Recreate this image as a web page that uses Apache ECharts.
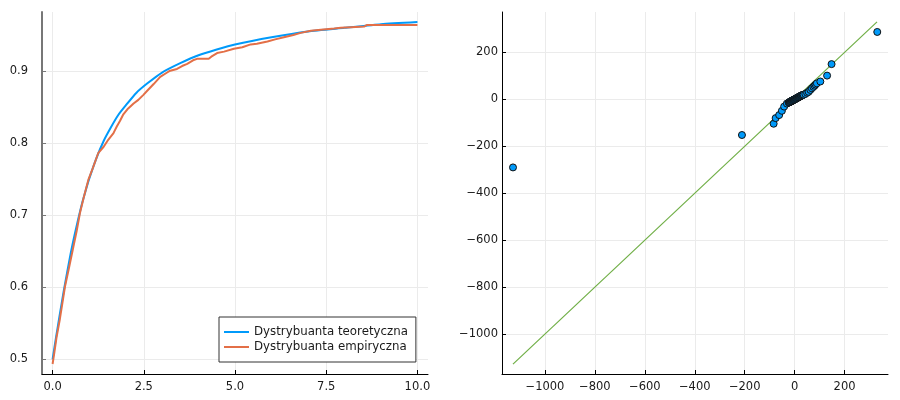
<!DOCTYPE html>
<html>
<head>
<meta charset="utf-8">
<script src="https://cdn.jsdelivr.net/npm/echarts@6/dist/echarts.min.js"></script>
<style>
  html, body { margin: 0; padding: 0; background: #fff; }
  #chart { width: 900px; height: 400px; }
</style>
</head>
<body>
<div id="chart"></div>
<script>
// lewy panel: dystrybuanta teoretyczna
var theoX = [0, 0.1, 0.2, 0.3, 0.4, 0.5, 0.6, 0.7, 0.8, 0.9, 1, 1.2, 1.4, 1.6, 1.8, 2, 2.3, 2.6, 3, 3.5, 4, 4.5, 5, 6, 7, 8, 9, 10];
var theoY = [0.5, 0.532, 0.563, 0.593, 0.621, 0.648, 0.672, 0.694, 0.715, 0.733, 0.75, 0.779, 0.803, 0.822, 0.839, 0.852, 0.870, 0.883, 0.898, 0.911, 0.922, 0.930, 0.937, 0.947, 0.955, 0.960, 0.965, 0.968];

// dystrybuanta empiryczna
var empX = [0, 0.05, 0.11, 0.2, 0.3, 0.34, 0.45, 0.57, 0.66, 0.75, 0.85, 0.98, 1.1, 1.25, 1.3, 1.4, 1.53, 1.67, 1.7, 1.76,
  1.85, 1.94, 2.05, 2.22, 2.35, 2.49, 2.6, 2.77, 2.95, 3.14, 3.2, 3.41, 3.55, 3.69, 3.85, 3.96, 4.28, 4.35, 4.51, 4.7,
  4.97, 5.2, 5.43, 5.6, 5.89, 6.1, 6.34, 6.6, 6.8, 7.08, 7.28, 7.32, 7.72, 7.9, 8.18, 8.55, 8.62, 10];
var empY = [0.4935, 0.51, 0.531, 0.556, 0.588, 0.601, 0.627, 0.656, 0.678, 0.703, 0.724, 0.749, 0.765, 0.786, 0.788, 0.795, 0.805, 0.814, 0.817, 0.823,
  0.831, 0.840, 0.847, 0.855, 0.86, 0.867, 0.873, 0.882, 0.892, 0.898, 0.9, 0.903, 0.907, 0.91, 0.915, 0.917, 0.917, 0.92, 0.925, 0.927,
  0.931, 0.933, 0.937, 0.938, 0.941, 0.944, 0.947, 0.95, 0.953, 0.956, 0.957, 0.959, 0.959, 0.96, 0.961, 0.962, 0.964, 0.964];

var leftXTicks = [0, 2.5, 5, 7.5, 10];
var leftYTicks = [0.5, 0.6, 0.7, 0.8, 0.9];

// prawy panel: wykres kwantylowy
var qqX = [-1128, -211, -84, -76, -62, -51, -42, -31, -24,
  -22, -21, -20, -19, -18, -17, -16, -15, -14, -13, -12, -11, -10, -9, -8, -7, -6, -5, -4, -3, -2, -1,
  0, 1, 2, 3, 4, 5, 6, 7, 8, 9, 10, 11, 12, 13, 14, 15, 16, 17, 18, 19, 20, 21, 22, 23, 24, 25, 26, 27, 28, 29, 30,
  32, 34, 36, 43, 50, 56, 63, 69, 75, 80, 84, 89, 103, 130, 148, 331];
var qqY = [-290, -152, -104, -80, -67, -49, -31, -18, -14,
  -13, -12.4, -11.8, -11.2, -10.6, -10, -9.4, -8.8, -8.2, -7.6, -7, -6.4, -5.8, -5.2, -4.6, -4, -3.4, -2.8, -2.2, -1.6, -1.1, -0.6,
  0, 0.5, 1.1, 1.7, 2.3, 2.9, 3.5, 4.1, 4.7, 5.3, 5.9, 6.5, 7.1, 7.6, 8.2, 8.8, 9.4, 10, 10.5, 11.1, 11.7, 12.3, 12.8, 13.4, 14, 14.6, 15.2, 15.8, 16.3, 16.9, 17.5,
  18.2, 19, 20, 23, 28, 32, 40, 47, 53, 58, 63, 68, 76, 101, 150, 287];
var qqLine = [-1128, 330];

var rightXTicks = [-1000, -800, -600, -400, -200, 0, 200];
var rightYTicks = [-1000, -800, -600, -400, -200, 0, 200];

var seriesNames = ['Dystrybuanta teoretyczna', 'Dystrybuanta empiryczna'];

function pairs(xs, ys) {
  return xs.map(function (x, i) { return [x, ys[i]]; });
}
function minus(v) {
  return String(v).replace('-', '\u2212');
}

var font = 'DejaVu Sans';
var gridLine = { show: true, lineStyle: { color: '#ebebeb', width: 1 } };
var labelStyle = { color: '#1a1a1a', fontFamily: font, fontSize: 11.5 };

var myChart = echarts.init(document.getElementById('chart'));
var option = {
  animation: false,
  backgroundColor: '#fff',
  grid: [
    { left: 42, top: 12, width: 386, height: 362 },
    { left: 502, top: 12, width: 386, height: 362 }
  ],
  legend: {
    data: seriesNames,
    orient: 'vertical',
    left: 219,
    top: 317,
    padding: [9, 8, 9, 5],
    itemGap: 3,
    itemWidth: 25,
    itemHeight: 2,
    icon: 'rect',
    backgroundColor: '#fff',
    borderColor: '#333',
    borderWidth: 1,
    textStyle: { color: '#1a1a1a', fontFamily: font, fontSize: 11.8 }
  },
  xAxis: [{
    type: 'value',
    gridIndex: 0,
    min: -0.29,
    max: 10.29,
    axisLine: { onZero: false, lineStyle: { color: '#000', width: 1 } },
    axisTick: { inside: true, length: 4, customValues: leftXTicks, lineStyle: { color: '#000' } },
    axisLabel: Object.assign({ customValues: leftXTicks, margin: 7, formatter: function (v) { return v.toFixed(1); } }, labelStyle),
    splitLine: gridLine
  }, {
    type: 'value',
    gridIndex: 1,
    min: -1172,
    max: 374,
    axisLine: { onZero: false, lineStyle: { color: '#000', width: 1 } },
    axisTick: { inside: true, length: 4, customValues: rightXTicks, lineStyle: { color: '#000' } },
    axisLabel: Object.assign({ customValues: rightXTicks, margin: 7, formatter: minus }, labelStyle),
    splitLine: gridLine
  }],
  yAxis: [{
    type: 'value',
    gridIndex: 0,
    min: 0.4796,
    max: 0.982,
    axisLine: { show: true, onZero: false, lineStyle: { color: '#777', width: 2 } },
    axisTick: { show: true, inside: true, length: 4, customValues: leftYTicks, lineStyle: { color: '#777' } },
    axisLabel: Object.assign({ customValues: leftYTicks, margin: 14, formatter: function (v) { return v.toFixed(1); } }, labelStyle),
    splitLine: gridLine
  }, {
    type: 'value',
    gridIndex: 1,
    min: -1170,
    max: 372,
    axisLine: { show: true, onZero: false, lineStyle: { color: '#000', width: 1 } },
    axisTick: { show: true, inside: true, length: 4, customValues: rightYTicks, lineStyle: { color: '#000' } },
    axisLabel: Object.assign({ customValues: rightYTicks, margin: 4, formatter: minus }, labelStyle),
    splitLine: gridLine
  }],
  series: [{
    name: seriesNames[0],
    type: 'line',
    xAxisIndex: 0,
    yAxisIndex: 0,
    data: pairs(theoX, theoY),
    smooth: 0.2,
    showSymbol: false,
    color: '#009afa',
    lineStyle: { color: '#009afa', width: 2 },
    z: 3
  }, {
    name: seriesNames[1],
    type: 'line',
    xAxisIndex: 0,
    yAxisIndex: 0,
    data: pairs(empX, empY),
    showSymbol: false,
    color: '#e36f47',
    lineStyle: { color: '#e36f47', width: 2 },
    z: 4
  }, {
    type: 'line',
    xAxisIndex: 1,
    yAxisIndex: 1,
    data: pairs(qqLine, qqLine),
    showSymbol: false,
    lineStyle: { color: '#6fae45', width: 1.2 },
    z: 2
  }, {
    type: 'scatter',
    xAxisIndex: 1,
    yAxisIndex: 1,
    data: pairs(qqX, qqY),
    symbolSize: 7,
    itemStyle: { color: '#009afa', borderColor: '#111', borderWidth: 1, opacity: 1 },
    z: 3
  }]
};
myChart.setOption(option);
</script>
</body>
</html>
